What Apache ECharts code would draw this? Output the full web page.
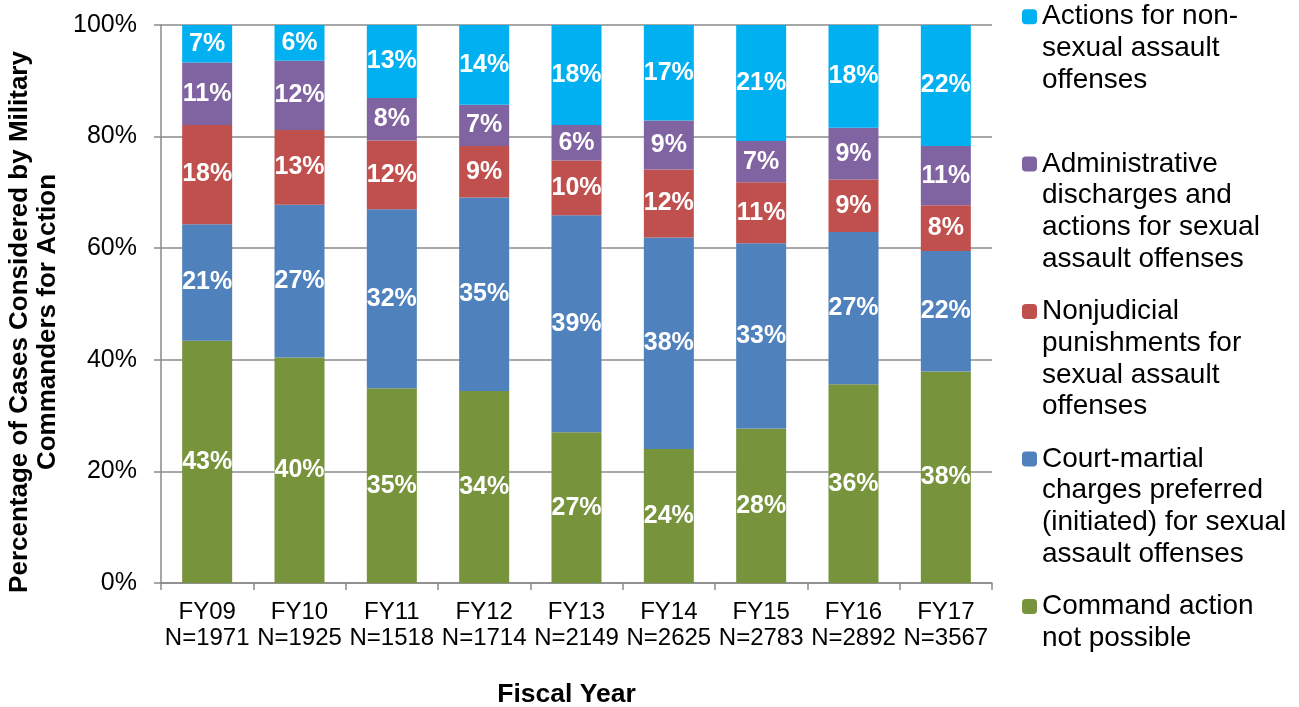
<!DOCTYPE html>
<html><head><meta charset="utf-8">
<script src="https://cdn.jsdelivr.net/npm/echarts@6/dist/echarts.min.js"></script>
<style>html,body{margin:0;padding:0;background:#fff}#c{width:1299px;height:707px}</style>
</head><body><div id="c"></div>
<script>
const years = ['FY09','FY10','FY11','FY12','FY13','FY14','FY15','FY16','FY17'];
const caseCounts = ['N=1971','N=1925','N=1518','N=1714','N=2149','N=2625','N=2783','N=2892','N=3567'];
const commandActionNotPossible = [43.4,40.4,34.9,34.4,27.0,24.0,27.7,35.6,37.9];
const courtMartialCharges = [20.9,27.4,32.1,34.7,38.9,37.9,33.2,27.3,21.6];
const nonjudicialPunishments = [17.8,13.4,12.3,9.2,9.8,12.2,10.9,9.4,8.2];
const administrativeDischarges = [11.2,12.4,7.6,7.4,6.4,8.8,7.4,9.3,10.6];
const nonSexualAssaultActions = [6.7,6.4,13.1,14.3,17.9,17.1,20.8,18.4,21.7];
const yTickValues = [0,20,40,60,80,100];

const seriesNames = [
  'Actions for non-\nsexual assault\noffenses',
  'Administrative\ndischarges and\nactions for sexual\nassault offenses',
  'Nonjudicial\npunishments for\nsexual assault\noffenses',
  'Court-martial\ncharges preferred\n(initiated) for sexual\nassault offenses',
  'Command action\nnot possible'
];
const colors = ['#00B0F0','#8064A2','#C0504D','#4F81BD','#77933C'];
const seriesData = [nonSexualAssaultActions, administrativeDischarges, nonjudicialPunishments, courtMartialCharges, commandActionNotPossible];

const FONT = 'Liberation Sans, Arial, sans-serif';
const LH = 31.7;
const iconCenters = [16.7, 164, 311.5, 459, 606.5];

const legends = seriesNames.map((name, i) => {
  const n = name.split('\n').length;
  return {
    data: [name],
    orient: 'vertical',
    left: 1022,
    top: iconCenters[i] - (2 * n - 1) * LH / 2,
    padding: 0,
    itemWidth: 15,
    itemHeight: 15,
    itemGap: 0,
    selectedMode: false,
    formatter: nm => '\n'.repeat(n - 1) + nm,
    textStyle: { fontFamily: FONT, fontSize: 28, color: '#000', lineHeight: LH }
  };
});

// draw order bottom->top: green, blue, red, purple, cyan
const order = [4,3,2,1,0];
const series = order.map(i => ({
  name: seriesNames[i],
  type: 'bar',
  stack: 'total',
  barWidth: 50,
  data: seriesData[i],
  itemStyle: { color: colors[i] },
  label: {
    show: true,
    position: 'inside',
    color: '#fff',
    fontFamily: FONT,
    fontWeight: 'bold',
    fontSize: 25,
    formatter: p => Math.round(p.value) + '%'
  }
}));

const chart = echarts.init(document.getElementById('c'));
chart.setOption({
  animation: false,
  backgroundColor: '#fff',
  textStyle: { fontFamily: FONT },
  legend: legends,
  grid: { left: 161, right: 307, top: 25, bottom: 124, containLabel: false, outerBoundsMode: 'none' },
  xAxis: {
    type: 'category',
    data: years.map((y, i) => y + '\n' + caseCounts[i]),
    name: 'Fiscal Year',
    nameLocation: 'middle',
    nameGap: 98,
    nameTextStyle: { fontFamily: FONT, fontSize: 26.5, fontWeight: 'bold', color: '#000', padding: [0, 20, 0, 0] },
    axisLine: { lineStyle: { color: '#8a8a8a', width: 1.5 } },
    axisTick: { show: true, length: 7, lineStyle: { color: '#8a8a8a', width: 1.5 } },
    axisLabel: { fontFamily: FONT, fontSize: 24, color: '#000', lineHeight: 25.5, margin: 17, interval: 0, hideOverlap: false }
  },
  yAxis: {
    type: 'value',
    min: 0, max: 100, interval: 20,
    name: 'Percentage of Cases Considered by Military\nCommanders for Action',
    nameLocation: 'middle',
    nameGap: 91,
    nameRotate: 90,
    nameTextStyle: { fontFamily: FONT, fontSize: 26, fontWeight: 'bold', color: '#000', lineHeight: 28, padding: [0, 36, 0, 0] },
    axisLine: { show: true, lineStyle: { color: '#8a8a8a', width: 1.5 } },
    axisTick: { show: true, length: 7, lineStyle: { color: '#8a8a8a', width: 1.5 } },
    splitLine: { show: true, lineStyle: { color: '#8a8a8a', width: 1.5 } },
    axisLabel: { fontFamily: FONT, fontSize: 25, color: '#000', margin: 24,
      formatter: v => yTickValues.includes(v) ? v + '%' : '' }
  },
  series: series
});
</script>
</body></html>
